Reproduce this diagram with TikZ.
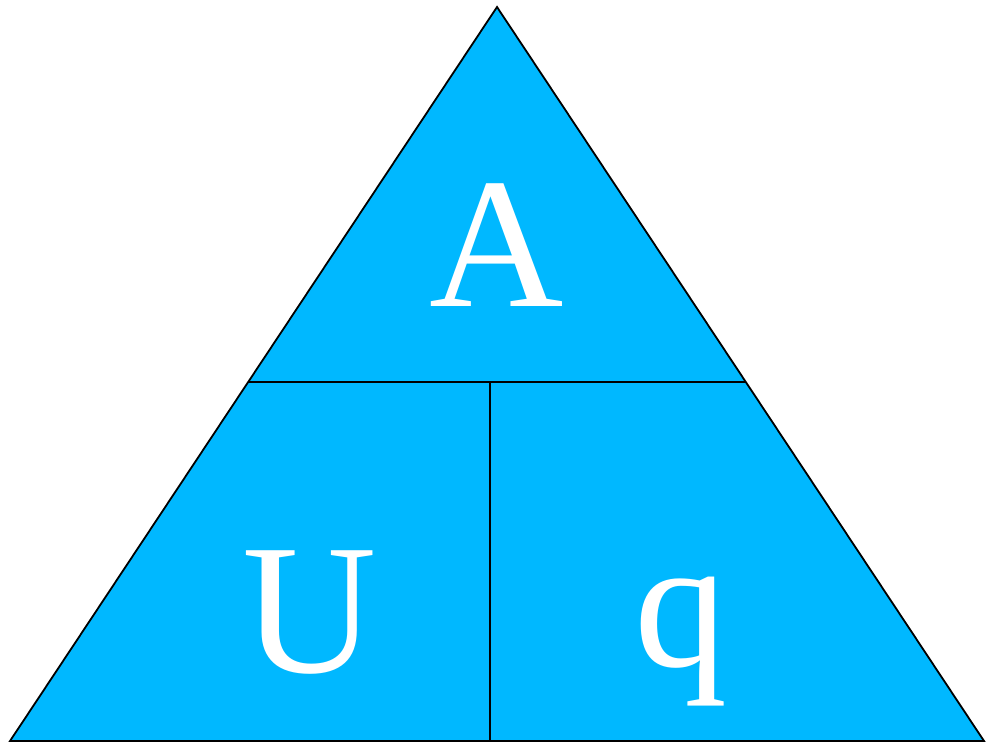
\documentclass[tikz,border=0pt]{standalone}
\usepackage{fontspec}
\setmainfont{Liberation Serif}
\usetikzlibrary{calc}
\definecolor{triblue}{RGB}{0,184,255}
\begin{document}
\begin{tikzpicture}[x = {(1pt,0pt)},
  y = {(0pt,-1pt)},
  letter/.style = {text=white, inner sep=0pt, anchor=base,
    font=\fontsize{186}{186}\selectfont}]

  % frame
  \useasboundingbox (0,0) rectangle (990,743);

  % corners
  \coordinate (apex)  at (497,7);
  \coordinate (left)  at (10,741);
  \coordinate (right) at (984,741);

  % split points
  \def\cut{0.511}
  \coordinate (midL) at ($(apex)!\cut!(left)$);
  \coordinate (midR) at ($(apex)!\cut!(right)$);
  \coordinate (midT) at (490,382);
  \coordinate (midB) at (490,741);

  % triangle
  \filldraw[fill=triblue, draw=black, line width=1.8pt, line join=miter]
  (apex) -- (left) -- (right) -- cycle;

  % dividers
  \draw[line width=1.8pt] (midL) -- (midR);
  \draw[line width=1.8pt] (midT) -- (midB);

  % letters
  \node[letter] (A) at (497,306) {A};
  \node[letter] (U) at (310,672) {U};
  \node[letter] (q) at (681,666) {q};

\end{tikzpicture}
\end{document}
